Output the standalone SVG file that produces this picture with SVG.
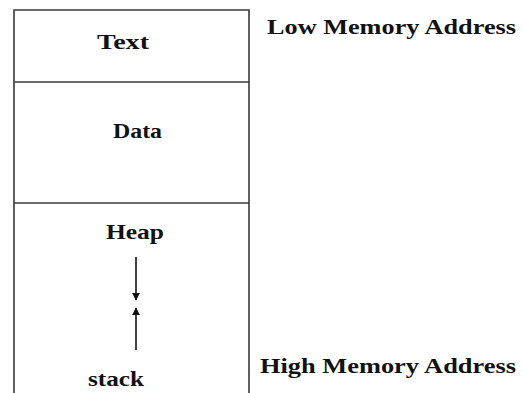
<svg xmlns="http://www.w3.org/2000/svg" width="523" height="393" viewBox="0 0 523 393">
  <style>
    .frame { fill: none; stroke: #3a3a3a; stroke-width: 1.6; }
    .lbl { font-family: "Liberation Serif", "Times New Roman", serif; font-weight: bold; font-size: 22px; fill: #111; }
    .conn { stroke: #111; stroke-width: 1.6; fill: none; }
  </style>
  <defs>
    <marker id="head" viewBox="0 0 10 10" refX="9" refY="5" markerWidth="5" markerHeight="5" orient="auto" markerUnits="strokeWidth">
      <path d="M0,0 L10,5 L0,10 z" fill="#111"/>
    </marker>
  </defs>
  <rect width="523" height="393" fill="#fff"/>

  <!-- memory layout column -->
  <g id="layout">
    <path class="frame" d="M14,393 V10 H249 V393"/>
    <line class="frame" x1="14" y1="82" x2="249" y2="82"/>
    <line class="frame" x1="14" y1="203" x2="249" y2="203"/>
  </g>

  <g id="text-segment">
    <text class="lbl" x="97" y="49" textLength="52" lengthAdjust="spacingAndGlyphs">Text</text>
  </g>
  <g id="data-segment">
    <text class="lbl" x="113" y="138" textLength="49" lengthAdjust="spacingAndGlyphs">Data</text>
  </g>
  <g id="heap">
    <text class="lbl" x="106" y="239" textLength="58" lengthAdjust="spacingAndGlyphs">Heap</text>
  </g>
  <g id="stack">
    <text class="lbl" x="88" y="386" textLength="56" lengthAdjust="spacingAndGlyphs">stack</text>
  </g>

  <g id="low-address">
    <text class="lbl" x="267" y="34" textLength="249" lengthAdjust="spacingAndGlyphs">Low Memory Address</text>
  </g>
  <g id="high-address">
    <text class="lbl" x="260" y="373" textLength="256" lengthAdjust="spacingAndGlyphs">High Memory Address</text>
  </g>

  <!-- growth directions of heap and stack -->
  <g id="connectors">
    <line class="conn" x1="136" y1="257" x2="136" y2="300" marker-end="url(#head)"/>
    <line class="conn" x1="136" y1="350" x2="136" y2="308" marker-end="url(#head)"/>
  </g>
</svg>
